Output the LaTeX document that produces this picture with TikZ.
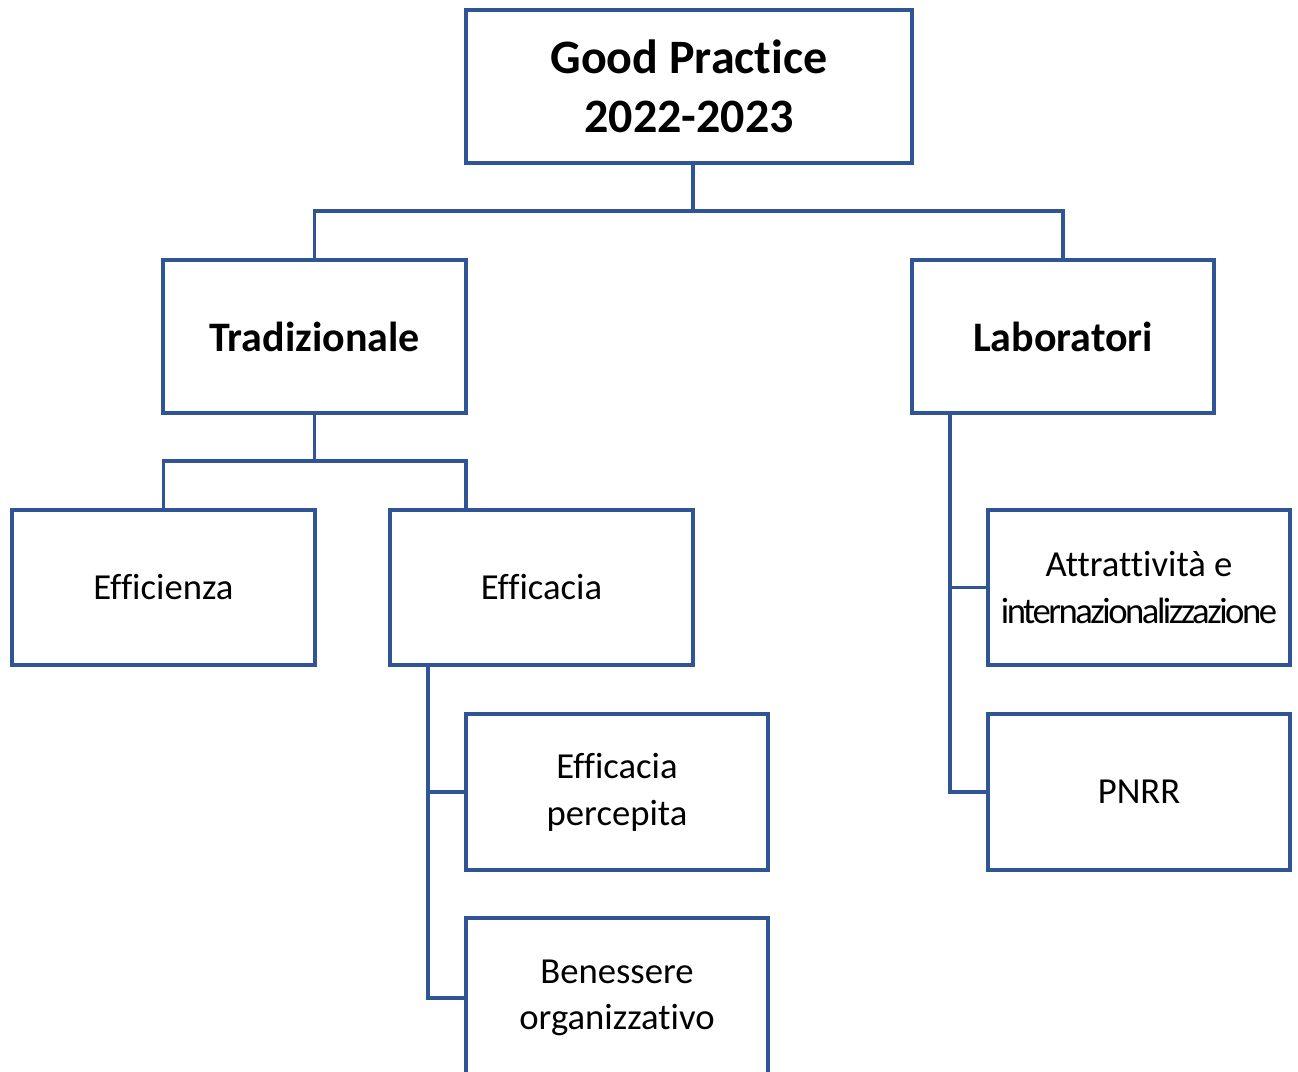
\documentclass[tikz,border=0pt]{standalone}
\usepackage{fontspec}
\setmainfont{Carlito}[Ligatures={NoCommon}]
\definecolor{boxblue}{HTML}{2F5597}
\begin{document}
\begin{tikzpicture}[x=0.75pt,y=-0.75pt,
  box/.style={draw=boxblue,line width=2.4pt,fill=white,rectangle,inner sep=0pt,outer sep=0pt,
    align=center,text=black,minimum width=227.25pt,minimum height=114.75pt},
  topfont/.style={font=\fontsize{36}{44}\selectfont\bfseries},
  midfont/.style={font=\fontsize{31.5}{38}\selectfont\bfseries},
  leaffont/.style={font=\fontsize{27.5}{35}\selectfont},
  conn/.style={draw=boxblue,line width=2.4pt}]
\useasboundingbox (0,0) rectangle (1298,1071);
\clip (0,0) rectangle (1298,1071);
\fill[white] (0,0) rectangle (1298,1071);
% nodes
\node[box,topfont,minimum width=334.5pt] (top) at (689,86.5) {Good Practice\\2022-2023};
\node[box,midfont] (trad) at (314.5,336.5) {Tradizionale};
\node[box,midfont,minimum width=226.5pt] (lab) at (1063,336.5) {Laboratori};
\node[box,leaffont,minimum height=116.25pt] (effz) at (163.5,587.5) {Efficienza};
\node[box,leaffont,minimum height=116.25pt] (effc) at (541.5,587.5) {Efficacia};
\node[box,leaffont,minimum width=226.5pt,minimum height=117pt] (perc) at (617,792) {Efficacia\\percepita};
\node[box,leaffont,minimum width=226.5pt,minimum height=120pt] (ben) at (617,998) {Benessere\\organizzativo};
\node[box,leaffont,minimum width=226.5pt,minimum height=116.25pt] (attr) at (1139,587.5) {Attrattività e\\{\addfontfeature{LetterSpace=-6.8}internazionalizzazione}};
\node[box,leaffont,minimum width=226.5pt,minimum height=117pt] (pnrr) at (1139,792) {PNRR};
% connectors
\coordinate (j1) at (693,211);
\coordinate (j2) at (314.5,461);
\draw[conn] ([xshift=3pt]top.south) -- (j1);
\draw[conn] (j1) -| (trad.north);
\draw[conn] (j1) -| (lab.north);
\draw[conn] (trad.south) -- (j2);
\draw[conn] (j2) -| (effz.north);
\draw[conn] (j2) -| ([xshift=57pt]effc.north west);
\draw[conn] ([xshift=28.5pt]effc.south west) |- (perc.west);
\draw[conn] ([xshift=28.5pt]effc.south west) |- (ben.west);
\draw[conn] ([xshift=28.5pt]lab.south west) |- (attr.west);
\draw[conn] ([xshift=28.5pt]lab.south west) |- (pnrr.west);
\end{tikzpicture}
\end{document}
